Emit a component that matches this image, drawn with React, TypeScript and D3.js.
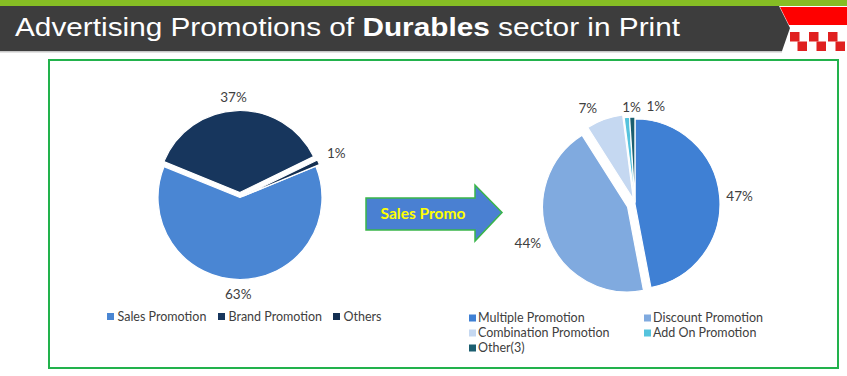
import React from "react";
import * as d3 from "d3";

// ---------- data ----------
const leftCategories = ["Sales Promotion", "Brand Promotion", "Others"];
const leftValues = [63, 37, 1];
const leftLabels = ["63%", "37%", "1%"];

const rightCategories = [
  "Multiple Promotion",
  "Discount Promotion",
  "Combination Promotion",
  "Add On Promotion",
  "Other(3)",
];
const rightValues = [47, 44, 7, 1, 1];
const rightLabels = ["47%", "44%", "7%", "1%", "1%"];

const titleParts = ["Advertising Promotions of ", "Durables", " sector in Print"];
const arrowText = "Sales Promo";

// ---------- styles / layout ----------
const leftColors = ["#4a86d3", "#17365d", "#142f52"];
const rightColors = ["#3f80d4", "#80aadf", "#c5d8f1", "#55c3dd", "#1b5e70"];
const leftExplode = [0, 5, 4];
const rightExplode = [0, 8, 5, 2, 2];
const leftNudge: [number, number][] = [[-2, 2], [-3, 0], [5, -4]];
const rightNudge: [number, number][] = [[2, 1], [-4, 0], [-12, 1], [6, 3], [24, 2]];
const FONT = "Lato, 'Open Sans', sans-serif";
const TEXT = "#404040";

const deg = Math.PI / 180;

function PieChart({
  cx, cy, r, values, colors, labels, explode, nudge, start,
}: {
  cx: number; cy: number; r: number; values: number[]; colors: string[];
  labels: string[]; explode: number[]; nudge: [number, number][]; start: number;
}) {
  const pie = d3.pie<number>().sort(null).value((d) => d)
    .startAngle(start).endAngle(start + 2 * Math.PI);
  const arcs = pie(values);
  const arc = d3.arc<d3.PieArcDatum<number>>().innerRadius(0).outerRadius(r);
  const gap = 6;
  const halfH = 7;
  return (
    <g>
      {arcs.map((a, i) => {
        const mid = (a.startAngle + a.endAngle) / 2;
        const sx = Math.sin(mid), sy = -Math.cos(mid);
        const ox = cx + sx * explode[i];
        const oy = cy + sy * explode[i];
        const halfW = labels[i].length * 4;
        const lx = ox + sx * (r + gap) + sx * halfW + nudge[i][0];
        const ly = oy + sy * (r + gap) + sy * halfH + nudge[i][1];
        return (
          <g key={i}>
            <path d={arc(a) as string} transform={`translate(${ox},${oy})`}
              fill={colors[i]} stroke="#ffffff" strokeWidth={1.2} strokeLinejoin="round" />
            <text x={lx} y={ly} dy="0.35em" textAnchor="middle"
              fontFamily={FONT} fontSize={13.5} fill={TEXT}>{labels[i]}</text>
          </g>
        );
      })}
    </g>
  );
}

export default function App() {
  const W = 847, H = 376;
  const leftLegendX = [107, 218, 333];
  const rlCols = [469, 644];
  const rlRows = [318, 333, 348];

  const sq = 9.5;
  const checkers: { x: number; y: number }[] = [];
  for (let row = 0; row < 2; row++) {
    for (let c = 0; c < 7; c++) {
      if ((c + row) % 2 === 0) checkers.push({ x: 790 + c * sq - row * 2, y: 32 + row * sq });
    }
  }

  return (
    <svg width={W} height={H} style={{ position: "absolute", left: 0, top: 0, background: "#fff" }}>
      {/* header */}
      <rect x={0} y={0} width={W} height={6} fill="#86bd24" />
      <polygon points="0,6 779,6 790,28 782,51 0,51" fill="#3d3d3d" />
      <rect x={0} y={51} width={782} height={1.5} fill="#c8c8c8" />
      <polygon points="780,7 847,7 847,25 789,25" fill="#fe0000" />
      {checkers.map((c, i) => (
        <rect key={i} x={c.x} y={c.y} width={sq} height={sq} fill="#e02020" />
      ))}
      <text x={15} y={35.5} fontFamily="'Liberation Sans', Arial, sans-serif" fontSize={26}
        fill="#ffffff" textLength={665} lengthAdjust="spacingAndGlyphs">
        {titleParts[0]}
        <tspan fontWeight="bold">{titleParts[1]}</tspan>
        {titleParts[2]}
      </text>

      {/* frame */}
      <rect x={49} y={60} width={789} height={308} fill="none" stroke="#22b24c" strokeWidth={2} />

      {/* left pie */}
      <PieChart cx={240} cy={197.5} r={82} values={leftValues} colors={leftColors}
        labels={leftLabels} explode={leftExplode} nudge={leftNudge} start={67.6 * deg} />
      {leftCategories.map((c, i) => (
        <g key={c}>
          <rect x={leftLegendX[i]} y={313} width={7} height={7} fill={leftColors[i]} />
          <text x={leftLegendX[i] + 10.5} y={316.5} dy="0.35em" fontFamily={FONT} fontSize={12.5}
            fill={TEXT}>{c}</text>
        </g>
      ))}

      {/* arrow */}
      <polygon points="366,198 475,198 475,185 502,212.5 475,241 475,230 366,230"
        fill="#4a80d2" stroke="#3ab54a" strokeWidth={1.5} />
      <text x={423} y={214} dy="0.35em" textAnchor="middle" fontFamily={FONT} fontWeight="bold"
        fontSize={15.5} fill="#ffff00">{arrowText}</text>

      {/* right pie */}
      <PieChart cx={635} cy={204} r={85} values={rightValues} colors={rightColors}
        labels={rightLabels} explode={rightExplode} nudge={rightNudge} start={0} />
      {rightCategories.map((c, i) => {
        const x = rlCols[i % 2];
        const y = rlRows[Math.floor(i / 2)];
        return (
          <g key={c}>
            <rect x={x} y={y - 3.5} width={7} height={7} fill={rightColors[i]} />
            <text x={x + 9} y={y} dy="0.35em" fontFamily={FONT} fontSize={12.5} fill={TEXT}>{c}</text>
          </g>
        );
      })}
    </svg>
  );
}
